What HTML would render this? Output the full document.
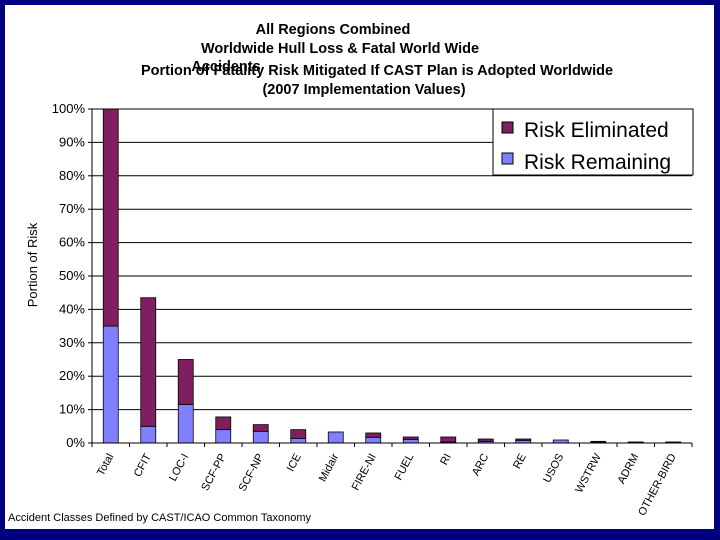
<!DOCTYPE html>
<html><head><meta charset="utf-8"><style>
body{margin:0;background:#000080;}
#frame{position:absolute;left:0;top:0;width:720px;height:540px;background:#000080;}
#inner{position:absolute;left:5px;top:5px;width:709px;height:524px;background:#fff;}
text{font-family:"Liberation Sans",sans-serif;}
</style></head><body>
<div id="frame">
<div id="inner"></div>
<svg id="chart" width="720" height="540" style="position:absolute;left:0;top:0">
<g font-weight="bold" font-size="14.5" text-anchor="middle">
<text x="333" y="34">All Regions Combined</text>
<text x="340" y="53">Worldwide Hull Loss &amp; Fatal World Wide</text>
<text x="226" y="71">Accidents</text>
<text x="377" y="75">Portion of Fatality Risk Mitigated If CAST Plan is Adopted Worldwide</text>
<text x="364" y="94">(2007 Implementation Values)</text>
</g>
<text x="37" y="265" font-size="13" text-anchor="middle" transform="rotate(-90 37 265)">Portion of Risk</text>
<g id="grid"></g><g id="bars"></g><g id="axes"></g>
<g>
<rect x="493" y="109" width="200" height="66" fill="#fff" stroke="#000" stroke-width="1"/>
<rect x="502" y="122" width="11" height="11" fill="#7f1f5f" stroke="#000"/>
<text x="524" y="137" font-size="21">Risk Eliminated</text>
<rect x="502" y="153" width="11" height="11" fill="#8080ff" stroke="#000"/>
<text x="524" y="169" font-size="21">Risk Remaining</text>
</g>
<text x="8" y="521" font-size="11">Accident Classes Defined by CAST/ICAO Common Taxonomy</text>
</svg>
</div>
<script>
const categories=["Total","CFIT","LOC-I","SCF-PP","SCF-NP","ICE","Midair","FIRE-NI","FUEL","RI","ARC","RE","USOS","WSTRW","ADRM","OTHER-BIRD"];
const remaining=[35,5,11.5,4,3.5,1.4,3.3,1.7,1.1,0.3,0.5,0.8,0.9,0.2,0.2,0.2];
const eliminated=[65,38.5,13.5,3.8,2,2.6,0,1.3,0.7,1.5,0.7,0.4,0,0.3,0.1,0.1];
const yTicks=[0,10,20,30,40,50,60,70,80,90,100];
const NS="http://www.w3.org/2000/svg";
const X0=92,X1=692,Y0=443,Y1=109;
const slot=(X1-X0)/categories.length;
const y=v=>Y0-(Y0-Y1)*v/100;
const xc=i=>X0+slot*(i+0.5);
function mk(t,a,p){const e=document.createElementNS(NS,t);for(const k in a)e.setAttribute(k,a[k]);p.appendChild(e);return e;}
const grid=document.getElementById('grid'),bars=document.getElementById('bars'),axes=document.getElementById('axes');
yTicks.forEach(v=>{
 if(v>0){const g=mk('line',{x1:X0,x2:X1,y1:y(v),y2:y(v),stroke:'#000','stroke-width':1},grid);
 
 }
 mk('line',{x1:X0-4,x2:X0,y1:y(v),y2:y(v),stroke:'#000'},axes);
 const t=mk('text',{x:X0-7,y:y(v)+4,'font-size':13,'text-anchor':'end'},axes);t.textContent=v+'%';
 
 
});
mk('line',{x1:X0,x2:X0,y1:Y1,y2:Y0,stroke:'#000'},axes);
mk('line',{x1:X0,x2:X1,y1:Y0,y2:Y0,stroke:'#000'},axes);
for(let i=0;i<=categories.length;i++)mk('line',{x1:X0+slot*i,x2:X0+slot*i,y1:Y0,y2:Y0+4,stroke:'#000'},axes);
const bw=15;
categories.forEach((c,i)=>{
 const x=xc(i)-bw/2;
 const r=mk('rect',{x:x,y:y(remaining[i]),width:bw,height:Y0-y(remaining[i]),fill:'#8080ff',stroke:'#000','stroke-width':0.8},bars);
 
 
 const top=remaining[i]+eliminated[i];
 if(eliminated[i]>0){const e=mk('rect',{x:x,y:y(top),width:bw,height:y(remaining[i])-y(top),fill:'#7f1f5f',stroke:'#000','stroke-width':0.8},bars);
 
 }
 const tx=xc(i)+3,ty=Y0+13;
 const t=mk('text',{x:tx,y:ty,'font-size':11,'text-anchor':'end',transform:`rotate(-62 ${tx} ${ty})`},axes);
 t.textContent=c;
 
 
});
</script>
</body></html>
